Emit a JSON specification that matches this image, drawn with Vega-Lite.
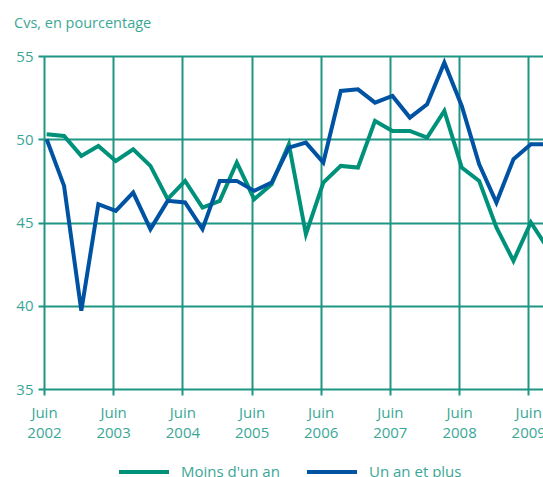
{
  "$schema": "https://vega.github.io/schema/vega-lite/v6.json",
  "autosize": {"type": "none"},
  "padding": {"left": 44, "top": 56, "right": 0, "bottom": 88},
  "width": 499,
  "height": 333,
  "background": "white",
  "title": {
    "text": "Cvs, en pourcentage",
    "anchor": "start",
    "frame": "group",
    "orient": "top",
    "baseline": "alphabetic",
    "dx": -30,
    "offset": 7,
    "font": "Open Sans",
    "fontSize": 14.5,
    "fontWeight": "normal",
    "color": "#3aa796"
  },
  "data": {
    "values": [
      {"date": "2002-06-15", "serie": "Moins d'un an", "value": 50.3},
      {"date": "2002-09-15", "serie": "Moins d'un an", "value": 50.2},
      {"date": "2002-12-15", "serie": "Moins d'un an", "value": 49.0},
      {"date": "2003-03-15", "serie": "Moins d'un an", "value": 49.6},
      {"date": "2003-06-15", "serie": "Moins d'un an", "value": 48.7},
      {"date": "2003-09-15", "serie": "Moins d'un an", "value": 49.4},
      {"date": "2003-12-15", "serie": "Moins d'un an", "value": 48.4},
      {"date": "2004-03-15", "serie": "Moins d'un an", "value": 46.4},
      {"date": "2004-06-15", "serie": "Moins d'un an", "value": 47.5},
      {"date": "2004-09-15", "serie": "Moins d'un an", "value": 45.9},
      {"date": "2004-12-15", "serie": "Moins d'un an", "value": 46.3},
      {"date": "2005-03-15", "serie": "Moins d'un an", "value": 48.6},
      {"date": "2005-06-15", "serie": "Moins d'un an", "value": 46.4},
      {"date": "2005-09-15", "serie": "Moins d'un an", "value": 47.3},
      {"date": "2005-12-15", "serie": "Moins d'un an", "value": 49.7},
      {"date": "2006-03-15", "serie": "Moins d'un an", "value": 44.3},
      {"date": "2006-06-15", "serie": "Moins d'un an", "value": 47.4},
      {"date": "2006-09-15", "serie": "Moins d'un an", "value": 48.4},
      {"date": "2006-12-15", "serie": "Moins d'un an", "value": 48.3},
      {"date": "2007-03-15", "serie": "Moins d'un an", "value": 51.1},
      {"date": "2007-06-15", "serie": "Moins d'un an", "value": 50.5},
      {"date": "2007-09-15", "serie": "Moins d'un an", "value": 50.5},
      {"date": "2007-12-15", "serie": "Moins d'un an", "value": 50.1},
      {"date": "2008-03-15", "serie": "Moins d'un an", "value": 51.7},
      {"date": "2008-06-15", "serie": "Moins d'un an", "value": 48.3},
      {"date": "2008-09-15", "serie": "Moins d'un an", "value": 47.5},
      {"date": "2008-12-15", "serie": "Moins d'un an", "value": 44.7},
      {"date": "2009-03-15", "serie": "Moins d'un an", "value": 42.7},
      {"date": "2009-06-15", "serie": "Moins d'un an", "value": 45.0},
      {"date": "2009-09-15", "serie": "Moins d'un an", "value": 43.4},
      {"date": "2002-06-15", "serie": "Un an et plus", "value": 50.0},
      {"date": "2002-09-15", "serie": "Un an et plus", "value": 47.2},
      {"date": "2002-12-15", "serie": "Un an et plus", "value": 39.7},
      {"date": "2003-03-15", "serie": "Un an et plus", "value": 46.1},
      {"date": "2003-06-15", "serie": "Un an et plus", "value": 45.7},
      {"date": "2003-09-15", "serie": "Un an et plus", "value": 46.8},
      {"date": "2003-12-15", "serie": "Un an et plus", "value": 44.6},
      {"date": "2004-03-15", "serie": "Un an et plus", "value": 46.3},
      {"date": "2004-06-15", "serie": "Un an et plus", "value": 46.2},
      {"date": "2004-09-15", "serie": "Un an et plus", "value": 44.6},
      {"date": "2004-12-15", "serie": "Un an et plus", "value": 47.5},
      {"date": "2005-03-15", "serie": "Un an et plus", "value": 47.5},
      {"date": "2005-06-15", "serie": "Un an et plus", "value": 46.9},
      {"date": "2005-09-15", "serie": "Un an et plus", "value": 47.4},
      {"date": "2005-12-15", "serie": "Un an et plus", "value": 49.5},
      {"date": "2006-03-15", "serie": "Un an et plus", "value": 49.8},
      {"date": "2006-06-15", "serie": "Un an et plus", "value": 48.6},
      {"date": "2006-09-15", "serie": "Un an et plus", "value": 52.9},
      {"date": "2006-12-15", "serie": "Un an et plus", "value": 53.0},
      {"date": "2007-03-15", "serie": "Un an et plus", "value": 52.2},
      {"date": "2007-06-15", "serie": "Un an et plus", "value": 52.6},
      {"date": "2007-09-15", "serie": "Un an et plus", "value": 51.3},
      {"date": "2007-12-15", "serie": "Un an et plus", "value": 52.1},
      {"date": "2008-03-15", "serie": "Un an et plus", "value": 54.6},
      {"date": "2008-06-15", "serie": "Un an et plus", "value": 52.0},
      {"date": "2008-09-15", "serie": "Un an et plus", "value": 48.5},
      {"date": "2008-12-15", "serie": "Un an et plus", "value": 46.2},
      {"date": "2009-03-15", "serie": "Un an et plus", "value": 48.8},
      {"date": "2009-06-15", "serie": "Un an et plus", "value": 49.7},
      {"date": "2009-09-15", "serie": "Un an et plus", "value": 49.7}
    ]
  },
  "mark": {"type": "line", "strokeWidth": 4, "clip": true},
  "encoding": {
    "x": {
      "field": "date",
      "type": "temporal",
      "scale": {"domain": [{"year": 2002, "month": 6, "date": 1}, {"year": 2009, "month": 8, "date": 18}]},
      "axis": {
        "title": null,
        "values": [
          {"year": 2002, "month": 6, "date": 1},
          {"year": 2003, "month": 6, "date": 1},
          {"year": 2004, "month": 6, "date": 1},
          {"year": 2005, "month": 6, "date": 1},
          {"year": 2006, "month": 6, "date": 1},
          {"year": 2007, "month": 6, "date": 1},
          {"year": 2008, "month": 6, "date": 1},
          {"year": 2009, "month": 6, "date": 1}
        ],
        "labelExpr": "['Juin', timeFormat(datum.value, '%Y')]",
        "labelFlush": false,
        "labelOverlap": false,
        "labelPadding": 10,
        "labelLineHeight": 20,
        "labelAlign": "center",
        "labelBaseline": "top"
      }
    },
    "y": {
      "field": "value",
      "type": "quantitative",
      "scale": {"domain": [35, 55], "nice": false, "zero": false},
      "axis": {"title": null, "values": [35, 40, 45, 50, 55], "labelPadding": 5}
    },
    "color": {
      "field": "serie",
      "type": "nominal",
      "scale": {"domain": ["Moins d'un an", "Un an et plus"], "range": ["#00917a", "#0053a3"]},
      "legend": {
        "title": null,
        "orient": "none",
        "direction": "horizontal",
        "legendX": 73,
        "legendY": 389,
        "symbolType": "stroke",
        "symbolSize": 2500,
        "symbolStrokeWidth": 4,
        "labelOffset": 10,
        "columnPadding": 19,
        "padding": 0,
        "labelFont": "Open Sans",
        "labelFontSize": 15,
        "labelColor": "#3aa796"
      }
    }
  },
  "config": {
    "view": {"stroke": null},
    "axis": {
      "domain": false,
      "grid": true,
      "gridColor": "#1f9583",
      "gridWidth": 2,
      "gridOpacity": 1,
      "ticks": true,
      "tickColor": "#1f9583",
      "tickWidth": 2,
      "tickSize": 6,
      "labelFont": "Open Sans",
      "labelFontSize": 15,
      "labelColor": "#3aa796"
    }
  }
}
